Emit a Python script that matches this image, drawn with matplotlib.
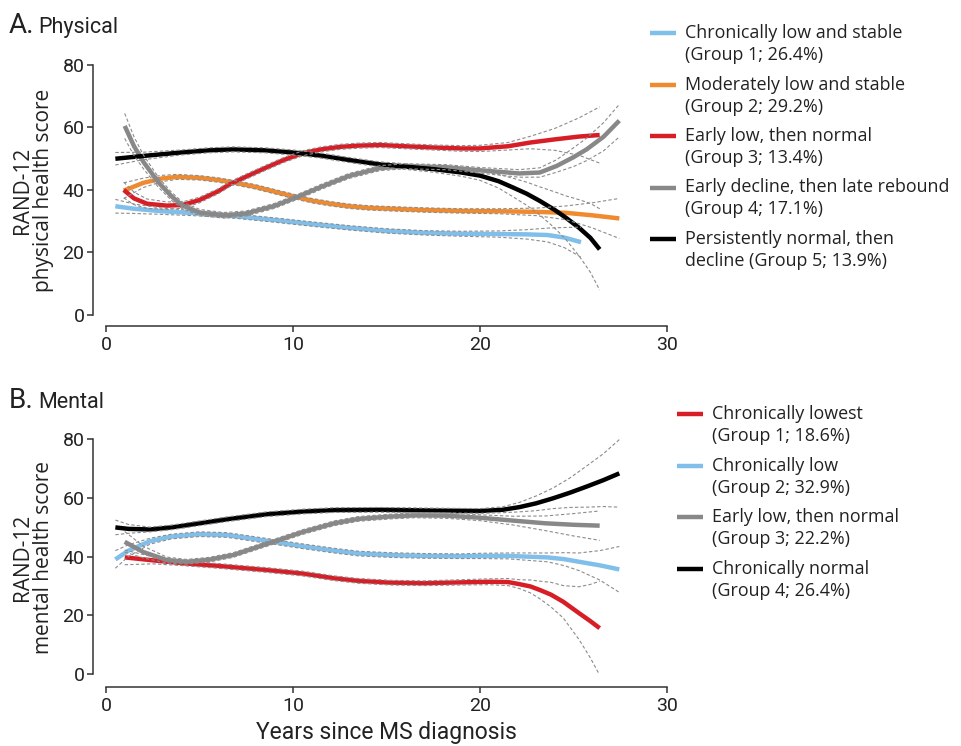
import numpy as np
import matplotlib.pyplot as plt
from matplotlib.lines import Line2D

W, H = 961, 746
NARROW = ['Roboto', 'DejaVu Sans']
SANS = ['Open Sans', 'DejaVu Sans']

# -----------------------------------------------
# A. Physical trajectories (years, score, CI half width)
# -----------------------------------------------
phys_labels = ['Chronically low and stable\n(Group 1; 26.4%)',
               'Moderately low and stable\n(Group 2; 29.2%)',
               'Early low, then normal\n(Group 3; 13.4%)',
               'Early decline, then late rebound\n(Group 4; 17.1%)',
               'Persistently normal, then\ndecline (Group 5; 13.9%)']
phys_colors = ['#80BFEA', '#F08A2E', '#D71E27', '#888888', '#000000']

phys_x_g1 = [0.5, 1.5, 3, 5, 7, 9, 11, 13, 15, 17, 19, 21, 22.5, 23.6, 24.5, 25.4]
phys_y_g1 = [34.8, 34.0, 33.2, 32.5, 31.6, 30.4, 29.1, 27.9, 26.9, 26.3, 26.0, 25.9, 25.8, 25.6, 24.8, 23.3]
phys_ci_g1 = [2.2, 1.5, 1.0, 0.8, 0.7, 0.7, 0.7, 0.7, 0.7, 0.7, 0.8, 1.0, 1.5, 2.2, 3.2, 4.8]

phys_x_g2 = [0.95, 2, 3, 3.8, 5, 6, 7, 8, 9, 10.2, 11, 12, 13, 14, 15.2, 17, 19, 21, 23, 24.6, 26, 27.45]
phys_y_g2 = [39.8, 42.3, 43.7, 44.2, 43.9, 43.2, 42.2, 41.0, 39.5, 37.7, 36.6, 35.6, 34.8, 34.3, 34.0, 33.6, 33.3, 33.2, 33.0, 32.7, 31.9, 30.9]
phys_ci_g2 = [2.5, 1.5, 1.0, 0.8, 0.7, 0.7, 0.7, 0.7, 0.7, 0.7, 0.7, 0.7, 0.7, 0.7, 0.7, 0.7, 0.7, 0.8, 1.2, 2.2, 4.0, 6.4]

phys_x_g3 = [0.95, 1.5, 2.2, 3.25, 4.1, 5, 6, 6.6, 7.5, 8.5, 9.5, 10.55, 11.5, 12.5, 13.5, 14.65, 16, 17.5, 19, 20, 21.5, 22.7, 24, 25.3, 26.4]
phys_y_g3 = [40.0, 37.3, 35.6, 35.0, 35.2, 36.8, 39.6, 41.8, 44.3, 47.0, 49.6, 51.8, 53.0, 53.8, 54.2, 54.4, 54.0, 53.6, 53.3, 53.3, 54.0, 55.2, 56.2, 57.1, 57.6]
phys_ci_g3 = [2.5, 2.0, 1.5, 1.2, 1.0, 0.9, 0.8, 0.8, 0.8, 0.8, 0.8, 0.8, 0.8, 0.8, 0.8, 0.8, 0.8, 0.8, 0.9, 1.0, 1.2, 2.0, 3.5, 6.0, 9.0]

phys_x_g4 = [1.0, 1.5, 2.0, 2.8, 3.5, 4.1, 5.0, 6.3, 7.5, 9, 10.2, 11.5, 13, 14.65, 16, 18.2, 20, 22.1, 23.2, 24.1, 25, 25.7, 26.6, 27.45]
phys_y_g4 = [60.5, 54.0, 49.0, 42.5, 38.0, 35.0, 32.8, 31.9, 32.5, 34.9, 37.7, 41.0, 44.5, 47.0, 47.6, 47.3, 46.3, 45.3, 45.6, 47.7, 50.5, 53.0, 57.0, 62.2]
phys_ci_g4 = [4.0, 3.0, 2.2, 1.6, 1.3, 1.1, 1.0, 0.9, 0.8, 0.8, 0.8, 0.8, 0.8, 0.8, 0.8, 0.8, 0.9, 1.2, 1.5, 2.0, 3.0, 3.6, 4.5, 5.2]

phys_x_g5 = [0.5, 2, 4, 5.5, 6.8, 8.5, 10, 11.5, 13, 14.65, 16, 17.5, 19, 20, 21, 21.8, 22.5, 23.2, 24, 24.6, 25.3, 25.9, 26.4]
phys_y_g5 = [50.0, 50.9, 52.0, 52.7, 53.0, 52.7, 52.0, 51.0, 49.6, 48.2, 47.5, 46.7, 45.6, 44.6, 42.8, 40.7, 38.8, 36.5, 33.6, 31.1, 27.9, 24.7, 21.0]
phys_ci_g5 = [2.0, 1.2, 0.8, 0.8, 0.8, 0.8, 0.8, 0.8, 0.8, 0.8, 0.9, 1.0, 1.2, 1.5, 2.2, 3.0, 3.7, 4.5, 5.8, 7.0, 9.0, 11.0, 13.0]

# -----------------------------------------------
# B. Mental trajectories
# -----------------------------------------------
ment_labels = ['Chronically lowest\n(Group 1; 18.6%)',
               'Chronically low\n(Group 2; 32.9%)',
               'Early low, then normal\n(Group 3; 22.2%)',
               'Chronically normal\n(Group 4; 26.4%)']
ment_colors = ['#D71E27', '#80BFEA', '#888888', '#000000']

ment_x_g1 = [1.0, 2.5, 4.1, 6, 8.6, 10.5, 12.2, 13.5, 15.2, 17, 19, 20.5, 21.5, 22.1, 22.7, 23.2, 23.8, 24.45, 25.3, 25.9, 26.4]
ment_y_g1 = [39.7, 38.7, 37.7, 36.8, 35.4, 34.2, 32.6, 31.7, 31.1, 30.9, 31.2, 31.4, 31.3, 30.6, 29.8, 28.6, 27.0, 24.6, 20.7, 18.0, 15.6]
ment_ci_g1 = [2.5, 1.2, 0.8, 0.8, 0.8, 0.8, 0.8, 0.8, 0.8, 0.8, 0.9, 1.0, 1.2, 1.5, 2.2, 3.0, 4.2, 5.5, 9.0, 12.5, 16.0]

ment_x_g2 = [0.5, 1.2, 2.35, 3.5, 5.0, 6.5, 8.95, 10.5, 12.2, 13.5, 15.2, 17, 19, 20, 21.5, 23.6, 24.5, 25.3, 26.4, 27.45]
ment_y_g2 = [39.0, 42.0, 45.2, 46.8, 47.6, 47.3, 45.0, 43.5, 42.0, 41.0, 40.5, 40.2, 40.1, 40.2, 40.2, 39.7, 39.1, 38.2, 37.0, 35.6]
ment_ci_g2 = [3.0, 2.0, 1.0, 0.8, 0.8, 0.8, 0.8, 0.8, 0.8, 0.8, 0.8, 0.8, 0.8, 0.9, 1.0, 1.5, 2.2, 3.0, 5.0, 7.8]

ment_x_g3 = [1.0, 2.0, 3.25, 4.3, 5.5, 6.8, 8.95, 10.5, 12.2, 13.5, 15.2, 16.5, 18.2, 20, 21.8, 23.5, 25, 26.4]
ment_y_g3 = [45.0, 41.5, 38.8, 38.2, 38.9, 40.5, 45.0, 48.3, 51.3, 52.8, 53.6, 54.0, 53.9, 53.2, 52.2, 51.3, 50.8, 50.5]
ment_ci_g3 = [3.5, 2.0, 1.0, 0.8, 0.8, 0.8, 0.8, 0.8, 0.8, 0.8, 0.8, 0.8, 0.9, 1.0, 1.5, 2.5, 3.8, 5.0]

ment_x_g4 = [0.5, 1.2, 2.35, 3.5, 5.0, 6.5, 8.6, 10.5, 12.2, 14.65, 17, 20, 21.2, 22.1, 23, 23.9, 24.8, 25.7, 26.6, 27.45]
ment_y_g4 = [49.9, 49.4, 49.2, 49.9, 51.3, 52.7, 54.4, 55.3, 55.8, 55.9, 55.7, 55.5, 55.9, 56.8, 58.1, 59.8, 61.7, 63.8, 66.0, 68.3]
ment_ci_g4 = [2.5, 1.5, 0.8, 0.8, 0.8, 0.8, 0.8, 0.8, 0.8, 0.8, 0.8, 0.8, 1.0, 1.6, 2.5, 3.5, 5.0, 7.0, 9.0, 11.5]

x_ticks = [0, 10, 20, 30]
y_ticks = [0, 20, 40, 60, 80]


def fxy(px, py):
    # pixel position -> figure fraction
    return px / W, 1 - py / H


def draw_panel(ax, xs, ys, cis, colors):
    for x, y, c, col in zip(xs, ys, cis, colors):
        x, y, c = np.array(x), np.array(y), np.array(c)
        ax.plot(x, y, color=col, lw=3.2, solid_capstyle='butt', zorder=2)
        for yy in (y + c, y - c):
            ax.plot(x, yy, color='#8c8c8c', lw=0.8, ls=(0, (3, 2)), zorder=3)
    ax.set_xlim(0, 30)
    ax.set_ylim(0, 80)
    ax.set_xticks(x_ticks)
    ax.set_yticks(y_ticks)
    for s in ('top', 'right'):
        ax.spines[s].set_visible(False)
    for s in ('left', 'bottom'):
        ax.spines[s].set_color('#333333')
        ax.spines[s].set_linewidth(1.1)
    ax.spines['left'].set_position(('outward', 9.4))
    ax.tick_params(color='#333333', width=1.1, length=4.5, labelsize=14,
                   labelcolor='#222222', labelfontfamily=NARROW)
    ax.tick_params(axis='y', pad=1.5)
    ax.tick_params(axis='x', pad=3)
    ax.patch.set_alpha(0)


def draw_legend(fig, labels, colors, x0, y0, step):
    for i, (lab, col) in enumerate(zip(labels, colors)):
        y = y0 + i * step
        fig.add_artist(Line2D([x0 / W, (x0 + 26) / W], [1 - y / H, 1 - y / H],
                              color=col, lw=3.2, solid_capstyle='butt'))
        for j, line in enumerate(lab.split('\n')):
            fig.text(*fxy(x0 + 35, y + j * 22), line, fontsize=12.9, family=SANS,
                     color='#222222', ha='left', va='center')


fig = plt.figure(figsize=(W / 100, H / 100), dpi=100)

# panel A
axA = fig.add_axes([106 / W, 1 - 315 / H, 561 / W, 250 / H])
draw_panel(axA,
           [phys_x_g1, phys_x_g2, phys_x_g3, phys_x_g4, phys_x_g5],
           [phys_y_g1, phys_y_g2, phys_y_g3, phys_y_g4, phys_y_g5],
           [phys_ci_g1, phys_ci_g2, phys_ci_g3, phys_ci_g4, phys_ci_g5],
           phys_colors)
axA.spines['bottom'].set_position(('outward', 7.9))

# panel B
axB = fig.add_axes([106 / W, 1 - 674 / H, 561 / W, 235 / H])
draw_panel(axB,
           [ment_x_g1, ment_x_g2, ment_x_g3, ment_x_g4],
           [ment_y_g1, ment_y_g2, ment_y_g3, ment_y_g4],
           [ment_ci_g1, ment_ci_g2, ment_ci_g3, ment_ci_g4],
           ment_colors)
axB.spines['bottom'].set_position(('outward', 9.4))
fig.text(*fxy(386, 733), 'Years since MS diagnosis', fontsize=16.5, family=NARROW,
         color='#222222', ha='center', va='center')

# panel titles
fig.text(*fxy(9, 33), 'A.', fontsize=20, family=NARROW, va='baseline', color='#222222')
fig.text(*fxy(38, 33), 'Physical', fontsize=15.5, family=NARROW, va='baseline', color='#222222')
fig.text(*fxy(9, 408), 'B.', fontsize=20, family=NARROW, va='baseline', color='#222222')
fig.text(*fxy(38, 408), 'Mental', fontsize=15.5, family=NARROW, va='baseline', color='#222222')

# y labels
fig.text(*fxy(33, 190), 'RAND-12\nphysical health score', rotation=90, fontsize=15,
         family=SANS, ha='center', va='center', multialignment='center',
         linespacing=1.05, color='#222222')
fig.text(*fxy(33, 557), 'RAND-12\nmental health score', rotation=90, fontsize=15,
         family=SANS, ha='center', va='center', multialignment='center',
         linespacing=1.05, color='#222222')

# legends
draw_legend(fig, phys_labels, phys_colors, 650, 33, 51.5)
draw_legend(fig, ment_labels, ment_colors, 677, 414, 51.7)

fig.savefig('out.png', dpi=100)
